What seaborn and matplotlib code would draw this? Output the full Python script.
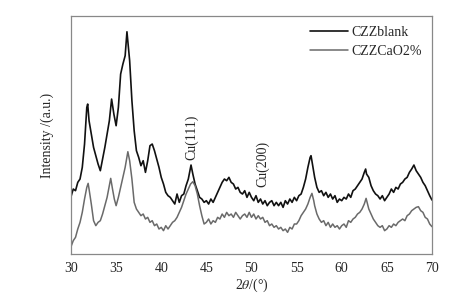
import numpy as np
import pandas as pd
import matplotlib
matplotlib.use("Agg")
import matplotlib.pyplot as plt
import seaborn as sns

# XRD 图谱数据（从图中读取，强度为任意单位）
blank_2theta = [30.0, 30.25, 30.5, 30.75, 31.0, 31.25, 31.5, 31.75, 31.85, 32.0, 32.25, 32.5, 32.75, 33.0, 33.25,
                33.5, 33.75, 34.0, 34.25, 34.5, 34.75, 35.0, 35.25, 35.5, 35.75, 36.0, 36.2, 36.5, 36.75, 37.0,
                37.25, 37.5, 37.75, 38.0, 38.25, 38.5, 38.75, 39.0, 39.25, 39.5, 39.75, 40.0, 40.25, 40.5, 40.75,
                41.0, 41.25, 41.5, 41.75, 42.0, 42.25, 42.5, 42.75, 43.0, 43.3, 43.5, 43.75, 44.0, 44.25, 44.5,
                44.75, 45.0, 45.25, 45.5, 45.75, 46.0, 46.25, 46.5, 46.75, 47.0, 47.25, 47.5, 47.75, 48.0, 48.25,
                48.5, 48.75, 49.0, 49.25, 49.5, 49.75, 50.0, 50.25, 50.5, 50.75, 51.0, 51.25, 51.5, 51.75, 52.0,
                52.25, 52.5, 52.75, 53.0, 53.25, 53.5, 53.75, 54.0, 54.25, 54.5, 54.75, 55.0, 55.25, 55.5, 55.75,
                56.0, 56.25, 56.5, 56.6, 56.75, 57.0, 57.25, 57.5, 57.75, 58.0, 58.25, 58.5, 58.75, 59.0, 59.25,
                59.5, 59.75, 60.0, 60.25, 60.5, 60.75, 61.0, 61.25, 61.5, 61.75, 62.0, 62.25, 62.5, 62.65, 62.75,
                63.0, 63.25, 63.5, 63.75, 64.0, 64.25, 64.5, 64.75, 65.0, 65.25, 65.5, 65.75, 66.0, 66.25, 66.5,
                66.75, 67.0, 67.25, 67.5, 67.75, 68.0, 68.25, 68.5, 68.75, 69.0, 69.25, 69.5, 69.75, 70.0]
blank_int = [17.2, 19.5, 19.0, 21.5, 22.5, 26.0, 33.0, 44.0, 45.0, 40.0, 36.0, 32.0, 29.5, 27.0, 25.0,
             28.5, 32.0, 36.0, 40.0, 46.5, 42.0, 38.5, 44.0, 54.0, 57.0, 59.5, 66.7, 58.0, 46.0, 37.0,
             31.0, 29.0, 26.5, 28.0, 24.5, 28.0, 32.5, 33.0, 31.0, 28.5, 26.0, 23.0, 21.0, 18.5, 17.5,
             17.0, 16.0, 15.0, 18.0, 15.5, 17.5, 18.0, 20.5, 22.5, 26.7, 24.0, 21.0, 19.0, 17.0, 16.5,
             15.5, 16.0, 15.0, 16.5, 15.5, 17.0, 18.5, 20.0, 21.5, 22.5, 22.0, 23.0, 21.5, 21.0, 19.5,
             20.0, 18.5, 18.0, 19.0, 17.0, 18.5, 17.0, 16.0, 17.5, 15.5, 16.5, 15.0, 16.0, 14.5, 15.5,
             16.0, 14.5, 15.5, 14.5, 15.5, 14.0, 16.0, 15.0, 16.5, 15.5, 17.0, 16.0, 17.5, 18.0, 20.0,
             22.5, 26.0, 29.0, 29.5, 27.0, 23.0, 20.0, 18.5, 19.0, 17.5, 18.5, 17.0, 18.0, 16.5, 17.5,
             15.5, 16.5, 16.0, 17.0, 16.5, 18.0, 17.0, 19.0, 19.5, 20.5, 21.5, 22.5, 24.5, 25.5, 24.0,
             23.0, 20.5, 19.0, 18.0, 17.5, 16.5, 17.5, 16.0, 17.0, 18.0, 19.5, 18.5, 20.0, 19.5, 21.0,
             21.5, 22.5, 23.0, 24.5, 25.5, 26.7, 25.0, 24.0, 23.0, 21.5, 20.5, 19.0, 17.5, 16.2]

cao_2theta = [30.0, 30.25, 30.5, 30.75, 31.0, 31.25, 31.5, 31.75, 31.9, 32.0, 32.25, 32.5, 32.75, 33.0, 33.25,
              33.5, 33.75, 34.0, 34.25, 34.4, 34.6, 34.8, 35.0, 35.25, 35.5, 35.75, 36.0, 36.3, 36.5, 36.75,
              37.0, 37.25, 37.5, 37.75, 38.0, 38.25, 38.5, 38.75, 39.0, 39.25, 39.5, 39.75, 40.0, 40.25, 40.5,
              40.75, 41.0, 41.25, 41.5, 41.75, 42.0, 42.25, 42.5, 42.75, 43.0, 43.25, 43.5, 43.75, 44.0, 44.25,
              44.5, 44.75, 45.0, 45.25, 45.5, 45.75, 46.0, 46.25, 46.5, 46.75, 47.0, 47.25, 47.5, 47.75, 48.0,
              48.25, 48.5, 48.75, 49.0, 49.25, 49.5, 49.75, 50.0, 50.25, 50.5, 50.75, 51.0, 51.25, 51.5, 51.75,
              52.0, 52.25, 52.5, 52.75, 53.0, 53.25, 53.5, 53.75, 54.0, 54.25, 54.5, 54.75, 55.0, 55.25, 55.5,
              55.75, 56.0, 56.25, 56.5, 56.7, 56.9, 57.0, 57.25, 57.5, 57.75, 58.0, 58.25, 58.5, 58.75, 59.0,
              59.25, 59.5, 59.75, 60.0, 60.25, 60.5, 60.75, 61.0, 61.25, 61.5, 61.75, 62.0, 62.25, 62.5, 62.7,
              62.9, 63.0, 63.25, 63.5, 63.75, 64.0, 64.25, 64.5, 64.75, 65.0, 65.25, 65.5, 65.75, 66.0, 66.25,
              66.5, 66.75, 67.0, 67.25, 67.5, 67.75, 68.0, 68.25, 68.5, 68.75, 69.0, 69.25, 69.5, 69.75, 70.0]
cao_int = [2.2, 4.0, 5.0, 7.5, 9.5, 12.5, 16.5, 20.0, 21.2, 19.5, 15.0, 10.0, 8.5, 9.5, 10.0,
           12.0, 14.5, 17.0, 20.5, 22.7, 19.5, 16.5, 14.5, 17.0, 20.0, 23.0, 26.0, 30.7, 28.0, 22.5,
           15.5, 13.5, 12.5, 11.5, 12.0, 10.5, 11.0, 9.5, 10.0, 8.5, 9.0, 7.5, 8.0, 7.0, 8.5,
           7.5, 8.5, 9.5, 10.0, 11.0, 12.5, 14.0, 16.0, 18.0, 19.5, 21.0, 21.7, 20.5, 18.0, 14.5,
           11.5, 9.0, 9.5, 10.5, 9.0, 10.0, 9.5, 11.0, 10.5, 12.0, 11.0, 12.5, 11.5, 12.0, 11.0,
           12.5, 11.5, 10.5, 11.5, 12.0, 11.0, 12.5, 11.0, 12.0, 10.5, 11.5, 10.5, 11.0, 9.5, 10.0,
           8.5, 9.0, 8.0, 8.5, 7.5, 8.0, 7.0, 7.5, 6.5, 8.0, 7.5, 9.0, 9.0, 10.0, 11.5,
           12.5, 13.5, 15.0, 17.0, 18.2, 16.0, 14.5, 12.0, 10.5, 9.5, 10.0, 8.5, 9.5, 8.0, 9.0,
           8.0, 8.5, 7.5, 8.5, 9.0, 8.0, 10.0, 9.5, 10.5, 11.0, 12.0, 12.5, 13.5, 15.0, 16.7,
           14.5, 13.5, 12.0, 10.5, 9.5, 8.5, 8.0, 8.5, 7.0, 7.5, 8.5, 8.0, 9.0, 8.5, 9.5,
           10.0, 10.5, 10.0, 11.5, 12.0, 13.0, 13.5, 14.0, 14.2, 13.0, 12.5, 11.0, 10.5, 9.0, 8.2]

series_names = ["CZZblank", "CZZCaO2%"]
peak_labels = ["Cu(111)", "Cu(200)"]
peak_pos = [43.4, 51.2]
peak_label_y = [28.2, 20.1]

sns.set_theme(style="white")
plt.rcParams['font.family'] = ['Liberation Serif', 'DejaVu Serif']
plt.rcParams['mathtext.fontset'] = 'stix'

fig = plt.figure(figsize=(4.56, 3.04), dpi=100)
ax = fig.add_axes([0.1557, 0.1645, 0.7916, 0.7825])

df_blank = pd.DataFrame({"x": blank_2theta, "y": blank_int})
df_cao = pd.DataFrame({"x": cao_2theta, "y": cao_int})
sns.lineplot(data=df_blank, x="x", y="y", ax=ax, color="#111111", linewidth=1.2, label=series_names[0])
sns.lineplot(data=df_cao, x="x", y="y", ax=ax, color="#6a6a6a", linewidth=1.1, label=series_names[1])

for lab, px, py in zip(peak_labels, peak_pos, peak_label_y):
    ax.text(px, py, lab, rotation=90, ha="center", va="bottom", fontsize=10)

ax.set_xlim(30, 70)
ax.set_ylim(0, 71.4)
ax.set_xticks(np.arange(30, 71, 5))
ax.set_yticks([])
ax.tick_params(axis="x", direction="in", length=5, width=0.8, color="#555555", labelsize=10, pad=6)
for s in ax.spines.values():
    s.set_color("#888888")
    s.set_linewidth(0.9)

ax.set_xlabel(r"2$\theta$/(°)", fontsize=10, labelpad=1)
ax.set_ylabel("Intensity /(a.u.)", fontsize=10, labelpad=12)

ax.legend(loc="upper right", frameon=False, fontsize=10, handlelength=2.7,
          handletextpad=0.3, borderaxespad=0.3, labelspacing=0.45)

fig.savefig("out.png", dpi=100)
